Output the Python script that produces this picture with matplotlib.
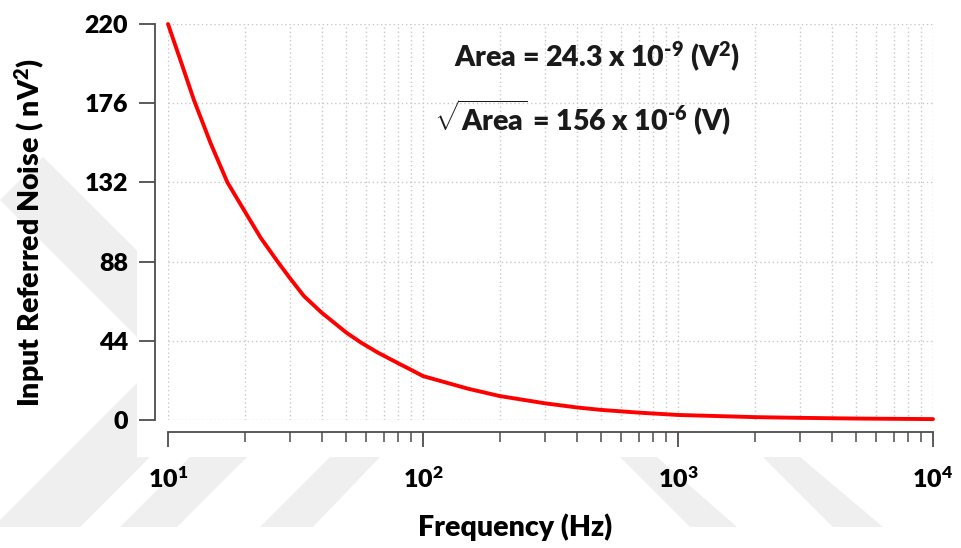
"""Input referred noise spectrum vs frequency (log x), with integrated area note."""

import math

import matplotlib
matplotlib.use("Agg")
import matplotlib.pyplot as plt
from matplotlib.patches import Polygon, Rectangle
from matplotlib.ticker import FuncFormatter, LogLocator, NullLocator

# values
freq_hz = [10, 11.2, 12.65, 14.7, 17.1, 20, 23.1, 26.9, 30, 34.1, 40, 50, 57,
           66.2, 70, 80, 90, 100, 150, 200, 300, 400, 500, 700,
           1000, 2000, 3000, 5000, 10000]
noise_nv2 = [220, 199.7, 177.6, 153.7, 132, 115.9, 101.2, 88, 79, 68.9, 59.7, 48.6, 43.1,
             37.6, 35.8, 31.5, 27.8, 24.4, 17.4, 13.3, 9.3, 7.0, 5.6, 4.1,
             2.8, 1.6, 1.2, 0.8, 0.5]
y_ticks = [0, 44, 88, 132, 176, 220]
x_limits = (10, 1e4)

area_text = r"Area = 24.3 x 10$^{\text{-9}}$ (V$^{\text{2}}$)"
sqrt_text = r"$\sqrt{\text{Area}}$ = 156 x 10$^{\text{-6}}$ (V)"

W, H = 962, 548
INK = "#1a1a1a"
AXC = "#4d4d4d"
WM = "#efefef"


def px(x, y):
    # pixel position -> figure fraction
    return (x / W, 1 - y / H)


def main():
    plt.rcParams["font.family"] = ["Lato", "DejaVu Sans"]
    plt.rcParams["font.weight"] = "heavy"
    plt.rcParams["mathtext.fontset"] = "custom"
    plt.rcParams["mathtext.rm"] = "Lato:weight=heavy"
    plt.rcParams["mathtext.bf"] = "Lato:weight=heavy"
    plt.rcParams["mathtext.it"] = "Lato:italic:weight=heavy"

    fig = plt.figure(figsize=(W / 100, H / 100), dpi=100)

    # faint background watermark, kept outside the plotting panel
    shapes = [
        [(43, 157), (247, 360), (80, 527), (0, 527), (0, 520), (160, 360), (0, 200)],
        [(120, 527), (177, 527), (247, 457), (190, 457)],
        [(260, 527), (313, 527), (380, 457), (330, 457)],
        [(620, 457), (657, 457), (737, 527), (690, 527)],
        [(763, 457), (800, 457), (883, 527), (833, 527)],
    ]
    for pts in shapes:
        fig.add_artist(Polygon([px(*p) for p in pts], closed=True,
                               transform=fig.transFigure, color=WM, lw=0, zorder=0))
    x0, y0 = px(137, 457)
    fig.add_artist(Rectangle((x0, y0), 1 - x0, 1 - y0, transform=fig.transFigure,
                             color="white", lw=0, zorder=0.5))

    left, top = px(168, 24)
    right, bottom = px(933, 420)
    ax = fig.add_axes([left, bottom, right - left, top - bottom])
    ax.set_zorder(2)
    ax.patch.set_alpha(0)

    ax.plot(freq_hz, noise_nv2, color="#ff0000", lw=2.8, clip_on=False,
            solid_capstyle="round", solid_joinstyle="round", zorder=3)

    ax.set_xscale("log")
    ax.set_xlim(*x_limits)
    ax.set_ylim(y_ticks[0], y_ticks[-1])
    ax.set_yticks(y_ticks)
    ax.yaxis.set_minor_locator(NullLocator())
    ax.xaxis.set_major_locator(LogLocator(base=10))
    ax.xaxis.set_minor_locator(LogLocator(base=10, subs=range(2, 10)))
    ax.xaxis.set_major_formatter(
        FuncFormatter(lambda v, _: r"10$^{\text{%d}}$" % round(math.log10(v))))

    ax.grid(which="major", axis="both", ls=(0, (1, 2)), color="#c8c8c8", lw=1.0)
    ax.grid(which="minor", axis="x", ls=(0, (1, 2)), color="#c8c8c8", lw=1.0)

    for s in ("top", "right"):
        ax.spines[s].set_visible(False)
    ax.spines["left"].set_position(("outward", 9.4))
    ax.spines["bottom"].set_position(("outward", 8.6))
    for s in ("left", "bottom"):
        ax.spines[s].set_color(AXC)
        ax.spines[s].set_linewidth(1.3)

    ax.tick_params(axis="y", which="major", direction="out", length=11.5, width=1.3,
                   color=AXC, pad=8, labelsize=18, labelcolor="black")
    ax.tick_params(axis="x", which="major", direction="out", length=11, width=1.3,
                   color=AXC, pad=14, labelsize=18, labelcolor="black")
    ax.tick_params(axis="x", which="minor", direction="out", length=7.5, width=1.1,
                   color=AXC)

    fig.text(*px(515, 527), "Frequency (Hz)", ha="center", va="center",
             fontsize=20.5, color="black")
    fig.text(*px(30, 232), r"Input Referred Noise ( nV$^{\text{2}}$)",
             rotation=90, ha="center", va="center", fontsize=20.5, color="black")

    fig.text(*px(597, 57), area_text, ha="center", va="center", fontsize=20.5,
             color=INK)
    fig.text(*px(583, 118), sqrt_text, ha="center", va="center", fontsize=20.5,
             color=INK)

    fig.savefig("out.png", dpi=100)
    plt.close(fig)


if __name__ == "__main__":
    main()
